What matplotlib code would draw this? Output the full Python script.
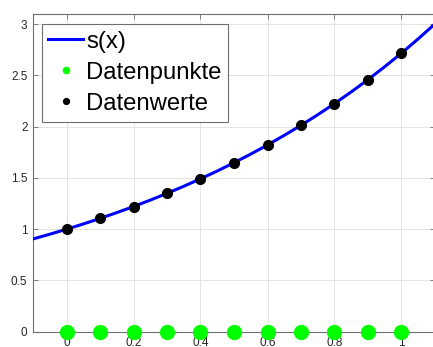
import matplotlib
matplotlib.use("Agg")
import matplotlib.pyplot as plt

plt.rcParams['font.family'] = ['Liberation Sans', 'DejaVu Sans']

# Data
x_pts = [0.0, 0.1, 0.2, 0.3, 0.4, 0.5, 0.6, 0.7, 0.8, 0.9, 1.0]
y_pts = [1.000, 1.105, 1.221, 1.350, 1.492, 1.649, 1.822, 2.014, 2.226, 2.460, 2.718]
y_zero = [0, 0, 0, 0, 0, 0, 0, 0, 0, 0, 0]
x_line = [-0.10, -0.05, 0.0, 0.05, 0.1, 0.15, 0.2, 0.25, 0.3, 0.35, 0.4, 0.45, 0.5,
          0.55, 0.6, 0.65, 0.7, 0.75, 0.8, 0.85, 0.9, 0.95, 1.0, 1.05, 1.1]
y_line = [0.905, 0.951, 1.000, 1.051, 1.105, 1.162, 1.221, 1.284, 1.350, 1.419, 1.492,
          1.568, 1.649, 1.733, 1.822, 1.916, 2.014, 2.117, 2.226, 2.340, 2.460, 2.586,
          2.718, 2.858, 3.004]
xticks = [0, 0.2, 0.4, 0.6, 0.8, 1]
xticklabels = ['0', '0.2', '0.4', '0.6', '0.8', '1']
yticks = [0, 0.5, 1, 1.5, 2, 2.5, 3]
yticklabels = ['0', '0.5', '1', '1.5', '2', '2.5', '3']
labels = ['s(x)', 'Datenpunkte', 'Datenwerte']

fig = plt.figure(figsize=(4.33, 3.47), dpi=100)
ax = fig.add_axes([33/433, (347-331.7)/347, 402/433, 317.7/347])

ax.plot(x_line, y_line, color='#0000ff', lw=2.2, label=labels[0], zorder=3)
ax.plot(x_pts, y_zero, 'o', color='#00ff00', ms=10, ls='none', label=labels[1], zorder=4,
        clip_on=False)
ax.plot(x_pts, y_pts, 'o', color='black', ms=7, ls='none', label=labels[2], zorder=5)

ax.set_xlim(-0.1, 1.1)
ax.set_ylim(0, 3.1)
ax.set_xticks(xticks)
ax.set_xticklabels(xticklabels)
ax.set_yticks(yticks)
ax.set_yticklabels(yticklabels)
ax.grid(True, color='#e3e3e3', lw=0.7)
ax.set_axisbelow(True)
ax.tick_params(direction='in', length=3.6, width=0.6, colors='#6e6e6e',
               labelcolor='#262626', labelsize=8.5, top=True, right=True, pad=4)
for s in ax.spines.values():
    s.set_color('#6e6e6e')
    s.set_linewidth(0.8)

leg = ax.legend(loc='upper left', bbox_to_anchor=(41.5/433, 1-24/347),
                bbox_transform=fig.transFigure, borderaxespad=0,
                fontsize=17.2, frameon=True, fancybox=False, framealpha=1,
                edgecolor='#6e6e6e', handlelength=1.45, handletextpad=0.15,
                labelspacing=0.38, borderpad=0.28)
leg.get_frame().set_linewidth(0.8)
hs = leg.legend_handles
hs[1].set_markersize(4.5)
hs[2].set_markersize(4.2)

fig.savefig('out.png', dpi=100)
